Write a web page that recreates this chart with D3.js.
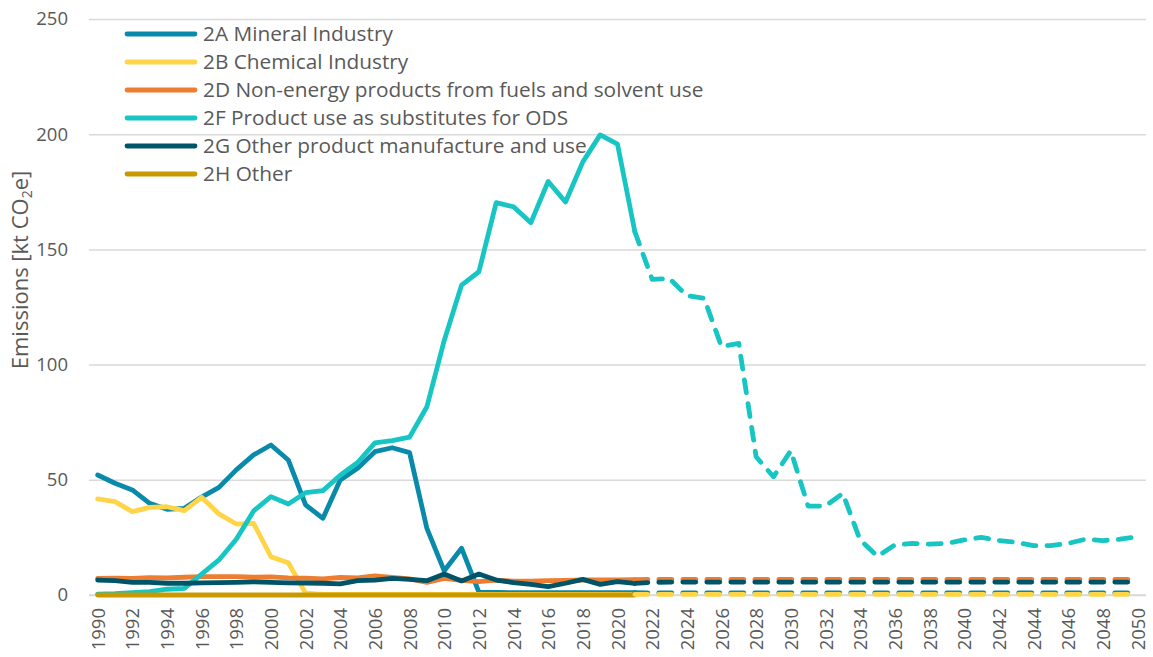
<!DOCTYPE html>
<html>
<head>
<meta charset="utf-8">
<script src="https://cdn.jsdelivr.net/npm/d3@7"></script>
<style>
  html, body { margin: 0; padding: 0; background: #ffffff; }
  svg { display: block; font-family: "Open Sans", "Noto Sans", sans-serif; }
</style>
</head>
<body>
<svg id="chart" width="1153" height="657"></svg>
<script>
// ---------- DATA ----------
const years = [1990,1991,1992,1993,1994,1995,1996,1997,1998,1999,
  2000,2001,2002,2003,2004,2005,2006,2007,2008,2009,
  2010,2011,2012,2013,2014,2015,2016,2017,2018,2019,
  2020,2021,2022,2023,2024,2025,2026,2027,2028,2029,
  2030,2031,2032,2033,2034,2035,2036,2037,2038,2039,
  2040,2041,2042,2043,2044,2045,2046,2047,2048,2049,2050];

const histYears = years.slice(0, 32);   // 1990-2021
const projYears = years.slice(31);      // 2021-2050

const tickYears = [1990,1992,1994,1996,1998,2000,2002,2004,2006,2008,2010,2012,2014,2016,2018,2020,
  2022,2024,2026,2028,2030,2032,2034,2036,2038,2040,2042,2044,2046,2048,2050];
const yTicks = [0, 50, 100, 150, 200, 250];

const seriesNames = ["2A Mineral Industry", "2B Chemical Industry",
  "2D Non-energy products from fuels and solvent use",
  "2F Product use as substitutes for ODS",
  "2G Other product manufacture and use", "2H Other"];
const seriesColors = ["#0a8aab", "#ffd447", "#ed7d31", "#17c5c3", "#005468", "#c99a00"];

// historical values 1990-2021
const hist2A = [52.1,48.5,45.6,39.8,37.2,37.6,42.5,46.7,54.3,60.8,
  65.1,58.6,39.1,33.3,49.9,55.0,62.2,63.9,61.8,28.9,
  10.5,20.3,1.2,1.1,1.0,1.0,1.0,1.0,1.0,1.0,1.0,1.0];
const hist2B = [41.7,40.5,36.2,38.0,38.3,36.6,42.4,35.2,30.8,31.1,
  16.6,14.0,0.8,0.3,0.3,0.3,0.3,0.3,0.3,0.3,
  0.3,0.3,0.3,0.3,0.3,0.3,0.3,0.3,0.3,0.3,0.3,0.3];
const hist2D = [7.2,7.3,7.2,7.5,7.4,7.7,8.0,8.0,8.0,7.7,
  7.9,7.4,7.3,7.0,7.6,7.4,8.3,7.6,7.0,5.5,
  7.2,6.4,5.8,6.5,6.0,6.0,6.2,6.3,6.5,6.5,6.5,6.7];
const hist2F = [0.4,0.6,1.0,1.5,2.5,2.9,9.1,15.2,24.2,36.5,
  42.7,39.5,44.4,45.3,52.0,57.5,66.0,67.0,68.5,81.7,
  110.5,134.5,140.3,170.3,168.5,161.6,179.5,170.6,188.0,199.7,195.7,157.7];
const hist2G = [6.5,6.2,5.5,5.5,5.1,5.1,5.3,5.4,5.5,5.7,
  5.5,5.3,5.2,5.1,4.8,6.2,6.5,7.2,6.8,6.2,
  9.1,6.1,9.1,6.5,5.4,4.6,3.6,5.1,6.8,4.6,5.8,5.0];
const hist2H = [0,0,0,0,0,0,0,0,0,0,
  0,0,0,0,0,0,0,0,0,0,
  0,0,0,0,0,0,0,0,0,0,0,0];

// projected values 2021-2050
const proj2A = [1.0,0.9,0.9,0.9,0.9,0.9,0.9,0.9,0.9,0.9,
  0.9,0.9,0.9,0.9,0.9,0.9,0.9,0.9,0.9,0.9,
  0.9,0.9,0.9,0.9,0.9,0.9,0.9,0.9,0.9,0.9];
const proj2B = [0.3,0.3,0.3,0.3,0.3,0.3,0.3,0.3,0.3,0.3,
  0.3,0.3,0.3,0.3,0.3,0.3,0.3,0.3,0.3,0.3,
  0.3,0.3,0.3,0.3,0.3,0.3,0.3,0.3,0.3,0.3];
const proj2D = [6.7,6.8,6.8,6.8,6.8,6.8,6.8,6.8,6.8,6.8,
  6.8,6.8,6.8,6.8,6.8,6.8,6.8,6.8,6.8,6.8,
  6.8,6.8,6.8,6.8,6.8,6.8,6.8,6.8,6.8,6.8];
const proj2F = [157.7,137.0,137.4,129.9,128.8,107.8,109.2,60.0,51.3,62.6,
  38.6,38.6,44.1,23.9,16.8,21.7,22.4,22.1,22.4,23.9,
  25.0,23.6,22.9,21.4,21.4,22.4,24.2,23.6,24.2,25.3];
const proj2G = [5.0,5.5,5.6,5.6,5.6,5.6,5.6,5.6,5.6,5.6,
  5.6,5.6,5.6,5.6,5.6,5.6,5.6,5.6,5.6,5.6,
  5.6,5.6,5.6,5.6,5.6,5.6,5.6,5.6,5.6,5.6];

const histSeries = [hist2A, hist2B, hist2D, hist2F, hist2G, hist2H];
const projSeries = [proj2A, proj2B, proj2D, proj2F, proj2G, null];

// ---------- LAYOUT ----------
const svg = d3.select("#chart");
const plotLeft = 89, plotRight = 1146, plotTop = 19, plotBottom = 595;
const lineW = 4.8;
const textColor = "#595959";

const x = d3.scalePoint().domain(years).range([plotLeft, plotRight]).padding(0.5);
const y = d3.scaleLinear().domain([0, 250]).range([plotBottom, plotTop]);

// gridlines + y axis
const yAxis = d3.axisLeft(y).tickValues(yTicks).tickSize(-(plotRight - plotLeft)).tickPadding(21);
const gy = svg.append("g").attr("transform", `translate(${plotLeft},0)`).call(yAxis);
gy.select(".domain").remove();
gy.selectAll(".tick line").attr("stroke", "#d9d9d9").attr("stroke-width", 1.5);
gy.selectAll(".tick text").attr("fill", textColor).style("font-size", "18.5px")
  .attr("font-family", "'Open Sans', sans-serif");

// x axis
const xAxis = d3.axisBottom(x).tickValues(tickYears).tickSize(0).tickPadding(0);
const gx = svg.append("g").attr("transform", `translate(0,${plotBottom})`).call(xAxis);
gx.select(".domain").attr("stroke", "#d9d9d9").attr("stroke-width", 1.5)
  .attr("d", `M${plotLeft},0H${plotRight}`);
gx.selectAll(".tick text")
  .attr("fill", textColor).style("font-size", "18.5px")
  .attr("font-family", "'Open Sans', sans-serif")
  .attr("transform", "rotate(-90)")
  .attr("x", -13).attr("y", 0).attr("dy", "0.36em")
  .style("text-anchor", "end");

// y axis title
const title = svg.append("text")
  .attr("transform", "translate(28,270) rotate(-90)")
  .attr("text-anchor", "middle")
  .attr("fill", textColor).style("font-size", "22px");
title.append("tspan").text("Emissions [kt CO");
title.append("tspan").text("2").style("font-size", "14px").attr("dy", 4);
title.append("tspan").text("e]").attr("dy", -4);

// lines
const lineGen = d3.line().x(d => x(d[0])).y(d => y(d[1])).curve(d3.curveLinear);
const plot = svg.append("g");

histSeries.forEach((vals, i) => {
  plot.append("path")
    .datum(histYears.map((yr, k) => [yr, vals[k]]))
    .attr("d", lineGen)
    .attr("fill", "none")
    .attr("stroke", seriesColors[i])
    .attr("stroke-width", lineW)
    .attr("stroke-linejoin", "round")
    .attr("stroke-linecap", "round");
});
projSeries.forEach((vals, i) => {
  if (!vals) return;
  plot.append("path")
    .datum(projYears.map((yr, k) => [yr, vals[k]]))
    .attr("d", lineGen)
    .attr("fill", "none")
    .attr("stroke", seriesColors[i])
    .attr("stroke-width", lineW)
    .attr("stroke-dasharray", "13,11")
    .attr("stroke-linejoin", "round")
    .attr("stroke-linecap", "round");
});

// legend
const legend = svg.append("g");
seriesNames.forEach((name, i) => {
  const ly = 34 + i * 28;
  legend.append("line")
    .attr("x1", 127).attr("x2", 195).attr("y1", ly).attr("y2", ly)
    .attr("stroke", seriesColors[i]).attr("stroke-width", lineW)
    .attr("stroke-linecap", "round");
  legend.append("text")
    .attr("x", 203).attr("y", ly).attr("dy", "0.36em")
    .attr("fill", textColor).style("font-size", "20.8px")
    .text(name);
});
</script>
</body>
</html>
